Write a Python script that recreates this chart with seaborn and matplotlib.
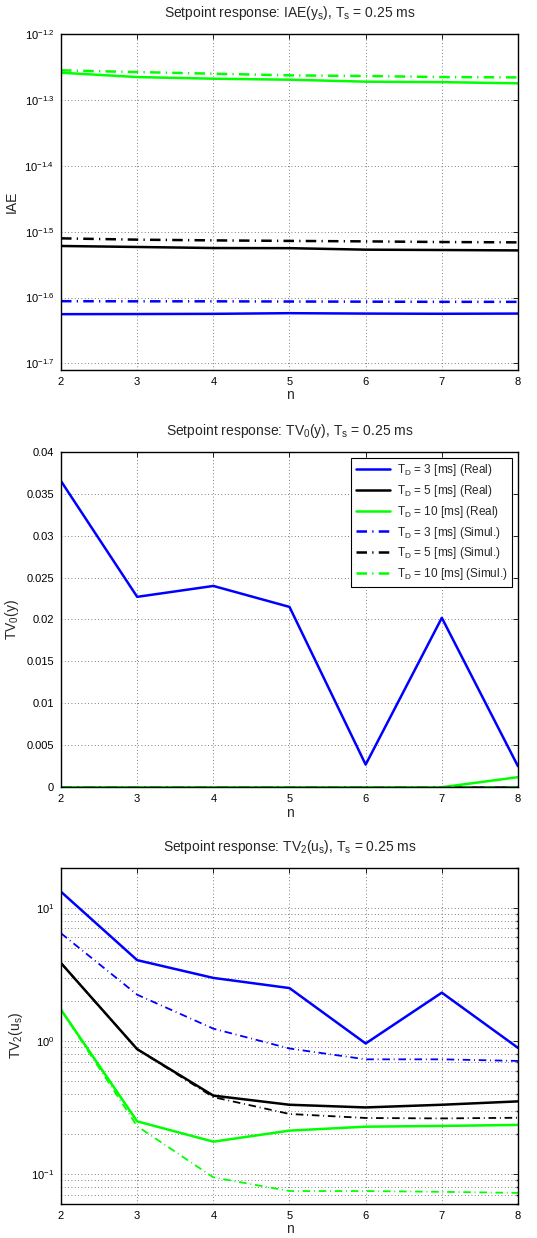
import numpy as np
import pandas as pd
import matplotlib
matplotlib.use('Agg')
import matplotlib.pyplot as plt
import matplotlib.ticker as mticker
import seaborn as sns

# --- data ---
n_vals = [2, 3, 4, 5, 6, 7, 8]
series_names = ['T$_\\mathrm{D}$ = 3 [ms] (Real)', 'T$_\\mathrm{D}$ = 5 [ms] (Real)',
                'T$_\\mathrm{D}$ = 10 [ms] (Real)', 'T$_\\mathrm{D}$ = 3 [ms] (Simul.)',
                'T$_\\mathrm{D}$ = 5 [ms] (Simul.)', 'T$_\\mathrm{D}$ = 10 [ms] (Simul.)']

iae_exp_real_3 = [-1.6252, -1.6250, -1.6247, -1.6237, -1.6243, -1.6246, -1.6243]
iae_exp_real_5 = [-1.5217, -1.5232, -1.5248, -1.5250, -1.5273, -1.5278, -1.5284]
iae_exp_real_10 = [-1.2587, -1.2653, -1.2678, -1.2693, -1.2723, -1.2730, -1.2748]
iae_exp_sim_3 = [-1.6055, -1.6057, -1.6057, -1.6060, -1.6062, -1.6065, -1.6065]
iae_exp_sim_5 = [-1.5101, -1.5121, -1.5132, -1.5140, -1.5147, -1.5157, -1.5162]
iae_exp_sim_10 = [-1.2551, -1.2577, -1.2602, -1.2627, -1.2637, -1.2653, -1.2658]

# TV0(y)
tv0_real_3 = [0.0365, 0.0227, 0.0240, 0.0215, 0.0027, 0.0202, 0.0025]
tv0_real_5 = [0.0, 0.0, 0.0, 0.0, 0.0, 0.0, 0.0]
tv0_real_10 = [0.0, 0.0, 0.0, 0.0, 0.0, 0.0, 0.0012]
tv0_sim_3 = [0.0, 0.0, 0.0, 0.0, 0.0, 0.0, 0.0]
tv0_sim_5 = [0.0, 0.0, 0.0, 0.0, 0.0, 0.0, 0.0]
tv0_sim_10 = [0.0, 0.0, 0.0, 0.0, 0.0, 0.0, 0.0]

# TV2(u_s)
tv2_real_3 = [13.2, 4.05, 2.98, 2.50, 0.96, 2.31, 0.89]
tv2_real_5 = [3.85, 0.87, 0.39, 0.333, 0.318, 0.333, 0.353]
tv2_real_10 = [1.72, 0.25, 0.176, 0.213, 0.228, 0.231, 0.235]
tv2_sim_3 = [6.44, 2.23, 1.24, 0.88, 0.73, 0.73, 0.71]
tv2_sim_5 = [3.85, 0.87, 0.38, 0.284, 0.265, 0.263, 0.266]
tv2_sim_10 = [1.72, 0.23, 0.095, 0.075, 0.075, 0.074, 0.0726]

colors = ['#0000ff', '#000000', '#00ff00'] * 2
dash_dot = (0, (4.2, 2.1, 0.5, 2.1))
styles = ['-'] * 3 + [dash_dot] * 3

sns.set_theme(style='white')
plt.rcParams['font.family'] = ['Liberation Sans', 'DejaVu Sans']
plt.rcParams['mathtext.fontset'] = 'custom'
plt.rcParams['mathtext.rm'] = 'Liberation Sans'
plt.rcParams['mathtext.it'] = 'Liberation Sans'
plt.rcParams['font.size'] = 8

fig = plt.figure(figsize=(5.37, 12.38), dpi=100)
L, W = 0.1136, 0.851
ax1 = fig.add_axes([L, 0.7011, W, 0.2714])
ax2 = fig.add_axes([L, 0.3641, W, 0.2710])
ax3 = fig.add_axes([L, 0.0275, W, 0.2716])


def draw(ax, series, label=True, sim_lw=1.8):
    for i, ys in enumerate(series):
        df = pd.DataFrame({'n': n_vals, 'v': ys})
        sns.lineplot(data=df, x='n', y='v', ax=ax, color=colors[i],
                     linestyle=styles[i], linewidth=1.8 if i < 3 else sim_lw,
                     label=series_names[i] if label else None, legend=False)


def style_axes(ax):
    ax.set_xlim(2, 8)
    ax.set_xticks(n_vals)
    ax.tick_params(direction='in', top=True, right=True, labelsize=8,
                   length=3.5, width=0.6, pad=5, colors='black')
    ax.tick_params(which='minor', direction='in', top=True, right=True, length=1.8)
    for sp in ax.spines.values():
        sp.set_linewidth(1.0)
        sp.set_color('black')
    ax.set_xlabel('n', fontsize=10, labelpad=1)


grid_kw = dict(linestyle=(0, (1, 3)), color='#555555', linewidth=0.6)

# panel 1: IAE
iae_series = [iae_exp_real_3, iae_exp_real_5, iae_exp_real_10,
              iae_exp_sim_3, iae_exp_sim_5, iae_exp_sim_10]
draw(ax1, [[10 ** e for e in s] for s in iae_series], label=False)
ax1.set_yscale('log')
ax1.set_ylim(10 ** -1.71, 10 ** -1.2)
iae_ticks = [-1.7, -1.6, -1.5, -1.4, -1.3, -1.2]
ax1.yaxis.set_major_locator(mticker.FixedLocator([10 ** t for t in iae_ticks]))
ax1.yaxis.set_major_formatter(mticker.FixedFormatter(['$10^{%s}$' % t for t in iae_ticks]))
ax1.yaxis.set_minor_locator(mticker.NullLocator())
style_axes(ax1)
ax1.grid(True, which='major', **grid_kw)
ax1.set_ylabel('IAE', fontsize=10)
ax1.set_title('Setpoint response: IAE(y$_\\mathrm{s}$), T$_\\mathrm{s}$ = 0.25 ms', fontsize=10, pad=12)

# panel 2: TV0(y)
draw(ax2, [tv0_real_3, tv0_real_5, tv0_real_10, tv0_sim_3, tv0_sim_5, tv0_sim_10])
ax2.set_ylim(0, 0.04)
ax2.set_yticks([0, 0.005, 0.01, 0.015, 0.02, 0.025, 0.03, 0.035, 0.04])
ax2.yaxis.set_major_formatter(mticker.FixedFormatter(
    ['0', '0.005', '0.01', '0.015', '0.02', '0.025', '0.03', '0.035', '0.04']))
style_axes(ax2)
ax2.grid(True, which='major', **grid_kw)
ax2.set_ylabel('TV$_\\mathrm{0}$(y)', fontsize=10)
ax2.set_title('Setpoint response: TV$_\\mathrm{0}$(y), T$_\\mathrm{s}$ = 0.25 ms', fontsize=10, pad=12)
leg = ax2.legend(loc='upper right', fontsize=8.5, frameon=True, fancybox=False,
                 edgecolor='black', framealpha=1, handlelength=2.9,
                 borderaxespad=0.5, labelspacing=0.4, handletextpad=0.6)
leg.get_frame().set_linewidth(0.8)

# panel 3: TV2(u_s)
draw(ax3, [tv2_real_3, tv2_real_5, tv2_real_10, tv2_sim_3, tv2_sim_5, tv2_sim_10],
     label=False, sim_lw=1.3)
ax3.set_yscale('log')
ax3.set_ylim(0.06, 20)
ax3.yaxis.set_major_locator(mticker.FixedLocator([0.1, 1, 10]))
ax3.yaxis.set_major_formatter(mticker.FixedFormatter(['$10^{-1}$', '$10^{0}$', '$10^{1}$']))
ax3.yaxis.set_minor_locator(mticker.LogLocator(base=10, subs=np.arange(2, 10)))
ax3.yaxis.set_minor_formatter(mticker.NullFormatter())
style_axes(ax3)
ax3.grid(True, which='both', **grid_kw)
ax3.set_ylabel('TV$_\\mathrm{2}$(u$_\\mathrm{s}$)', fontsize=10)
ax3.set_title('Setpoint response: TV$_\\mathrm{2}$(u$_\\mathrm{s}$), T$_\\mathrm{s}$ = 0.25 ms', fontsize=10, pad=12)

fig.savefig('out.png', dpi=100)
